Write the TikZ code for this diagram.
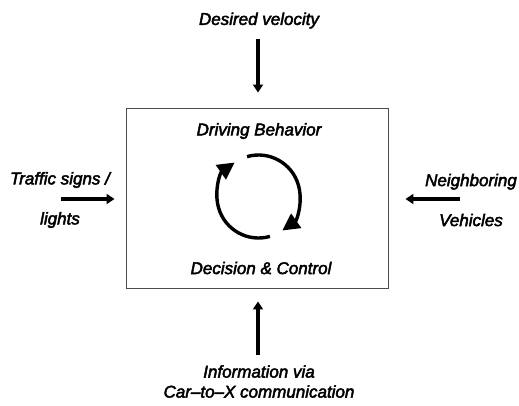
\documentclass[tikz,border=0pt]{standalone}
\usepackage{fontspec}
\setmainfont{Liberation Sans}
\newfontfamily\lblfont{Liberation Sans}[Ligatures=TeX]
\newcommand\heavytext[1]{\special{pdf:literal direct 2 Tr 0.45 w}#1\special{pdf:literal direct 0 Tr}}
\usetikzlibrary{positioning,arrows.meta}

\begin{document}
\begin{tikzpicture}[x=1pt,y=-1pt,>={Triangle[length=8pt,width=10pt]},
    lbl/.style={font=\lblfont\itshape\fontsize{17}{20}\selectfont,align=center,inner sep=0pt},
    widelbl/.style={lbl,font=\lblfont\itshape\fontsize{17}{40}\selectfont},
    flow/.style={->,line width=3.2pt},
    loopflow/.style={->,>={Triangle[length=17pt,width=17pt]},line width=3.4pt}]

    \useasboundingbox (0,0) rectangle (519,405);

    \node[draw=black!70,line width=0.9pt,minimum width=262pt,minimum height=180pt] (box) at (257,198) {};

    \node[lbl] (desired) at (259,20.5) {\heavytext{Desired velocity}};
    \node[lbl] (behavior) at (259,131) {\heavytext{Driving Behavior}};
    \node[lbl] (decision) at (261,268) {\heavytext{Decision \& Control}};
    \node[widelbl] (traffic) at (60,200) {\heavytext{Traffic signs /}\\\heavytext{lights}};
    \node[widelbl] (neighbor) at (471,200) {\heavytext{Neighboring}\\\heavytext{Vehicles}};
    \node[lbl] (info) at (259,381.5) {\heavytext{Information via}\\\heavytext{Car--to--X communication}};

    \coordinate (dvtail) at (258,39);
    \coordinate (trtail) at (61,199);
    \coordinate (nbtail) at (460,199);
    \coordinate (iftail) at (258,355);
    \coordinate (loopc) at (258.5,196.5);

    \draw[flow,shorten >=15pt] (dvtail) -- (dvtail |- box.north);
    \draw[flow,shorten >=11pt] (trtail) -- (trtail -| box.west);
    \draw[flow,shorten >=17pt] (nbtail) -- (nbtail -| box.east);
    \draw[flow,shorten >=13pt] (iftail) -- (iftail |- box.south);

    \draw[loopflow] (loopc) ++(-106:41.5) arc[start angle=-106,end angle=55,radius=41.5];
    \draw[loopflow] (loopc) ++(74:41.5) arc[start angle=74,end angle=235,radius=41.5];
\end{tikzpicture}
\end{document}
